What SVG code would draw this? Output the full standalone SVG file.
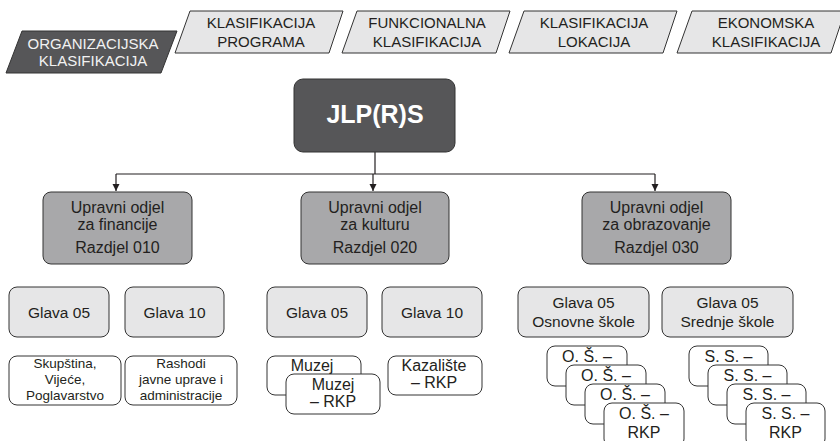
<svg xmlns="http://www.w3.org/2000/svg" width="840" height="441" viewBox="0 0 840 441">
<style>
  text { font-family: "Liberation Sans", Arial, sans-serif; fill: #231f20; text-anchor: middle; }
  .tab { fill: #e6e6e7; stroke: #333; stroke-width: 1; }
  .tabdark { fill: #565658; stroke: #333; stroke-width: 1; }
  .tt { font-size: 15px; }
  .wt { fill: #f2f2f2; }
  .dark { fill: #565658; stroke: #333; stroke-width: 1; }
  .mid { fill: #a8a8aa; stroke: #333; stroke-width: 1; }
  .light { fill: #e6e6e7; stroke: #333; stroke-width: 1; }
  .white { fill: #ffffff; stroke: #333; stroke-width: 1; }
  .m { font-size: 16px; }
  .g { font-size: 15.5px; }
  .s { font-size: 13.5px; }
  .r { font-size: 16px; }
  .conn { fill: none; stroke: #231f20; stroke-width: 1.2; }
</style>
<defs>
  <marker id="arr" markerWidth="8" markerHeight="8" refX="7" refY="4" orient="auto" markerUnits="userSpaceOnUse">
    <path d="M0,0.5 L7,4 L0,7.5 Z" fill="#231f20"/>
  </marker>
</defs>
<rect width="840" height="441" fill="#ffffff"/>

<g id="tab-org">
  <polygon class="tabdark" points="22,31 177,31 161,73 6,73"/>
  <text class="tt wt" x="93" y="49">ORGANIZACIJSKA</text>
  <text class="tt wt" x="93" y="66">KLASIFIKACIJA</text>
</g>
<g id="tab-prog">
  <polygon class="tab" points="190,11 343,11 329,53 175,53"/>
  <text class="tt" x="261" y="28">KLASIFIKACIJA</text>
  <text class="tt" x="261" y="47">PROGRAMA</text>
</g>
<g id="tab-funk">
  <polygon class="tab" points="357,11 510,11 496,53 342,53"/>
  <text class="tt" x="427" y="28">FUNKCIONALNA</text>
  <text class="tt" x="427" y="47">KLASIFIKACIJA</text>
</g>
<g id="tab-lok">
  <polygon class="tab" points="524,11 677,11 663,53 509,53"/>
  <text class="tt" x="594" y="28">KLASIFIKACIJA</text>
  <text class="tt" x="594" y="47">LOKACIJA</text>
</g>
<g id="tab-ekon">
  <polygon class="tab" points="692,11 845,11 831,53 677,53"/>
  <text class="tt" x="766" y="28">EKONOMSKA</text>
  <text class="tt" x="766" y="47">KLASIFIKACIJA</text>
</g>

<g id="connectors">
  <path class="conn" d="M375,152 V174"/>
  <path class="conn" d="M116,174 H655"/>
  <path class="conn" d="M116,174 V191" marker-end="url(#arr)"/>
  <path class="conn" d="M373,174 V191" marker-end="url(#arr)"/>
  <path class="conn" d="M655,174 V191" marker-end="url(#arr)"/>
</g>

<g id="jlprs">
  <rect class="dark" x="294" y="79" width="161" height="73" rx="9"/>
  <text x="375" y="123" style="font-size:25px;font-weight:bold;fill:#ffffff">JLP(R)S</text>
</g>

<g id="odjel-financije">
  <rect class="mid" x="43" y="192" width="149" height="72" rx="8"/>
  <text class="m" x="117.5" y="213">Upravni odjel</text>
  <text class="m" x="117.5" y="230">za financije</text>
  <text class="m" x="117.5" y="253">Razdjel 010</text>
</g>
<g id="odjel-kultura">
  <rect class="mid" x="301" y="192" width="148" height="72" rx="8"/>
  <text class="m" x="375" y="213">Upravni odjel</text>
  <text class="m" x="375" y="230">za kulturu</text>
  <text class="m" x="375" y="253">Razdjel 020</text>
</g>
<g id="odjel-obrazovanje">
  <rect class="mid" x="582" y="192" width="149" height="72" rx="8"/>
  <text class="m" x="656.5" y="213">Upravni odjel</text>
  <text class="m" x="656.5" y="230">za obrazovanje</text>
  <text class="m" x="656.5" y="253">Razdjel 030</text>
</g>

<g id="glava-fin-05">
  <rect class="light" x="9" y="287" width="100" height="50" rx="8"/>
  <text class="g" x="59" y="318">Glava 05</text>
</g>
<g id="glava-fin-10">
  <rect class="light" x="125" y="287" width="99" height="50" rx="8"/>
  <text class="g" x="174.5" y="318">Glava 10</text>
</g>
<g id="glava-kul-05">
  <rect class="light" x="267" y="287" width="100" height="50" rx="8"/>
  <text class="g" x="317" y="318">Glava 05</text>
</g>
<g id="glava-kul-10">
  <rect class="light" x="382" y="287" width="100" height="50" rx="8"/>
  <text class="g" x="432" y="318">Glava 10</text>
</g>
<g id="glava-os">
  <rect class="light" x="518" y="287" width="131" height="50" rx="8"/>
  <text class="g" x="583.5" y="308">Glava 05</text>
  <text class="g" x="583.5" y="327">Osnovne škole</text>
</g>
<g id="glava-ss">
  <rect class="light" x="662" y="287" width="131" height="50" rx="8"/>
  <text class="g" x="727.5" y="308">Glava 05</text>
  <text class="g" x="727.5" y="327">Srednje škole</text>
</g>

<g id="skupstina">
  <rect class="white" x="9" y="356" width="112" height="49" rx="8"/>
  <text class="s" x="65" y="368">Skupština,</text>
  <text class="s" x="65" y="384">Vijeće,</text>
  <text class="s" x="65" y="400">Poglavarstvo</text>
</g>
<g id="rashodi">
  <rect class="white" x="125" y="356" width="112" height="49" rx="8"/>
  <text class="s" x="181" y="368">Rashodi</text>
  <text class="s" x="181" y="384">javne uprave i</text>
  <text class="s" x="181" y="400">administracije</text>
</g>
<g id="muzej">
  <rect class="white" x="267" y="356" width="94" height="39" rx="8"/>
  <text class="r" x="312" y="371">Muzej</text>
</g>
<g id="muzej-rkp">
  <rect class="white" x="286" y="374" width="94" height="40" rx="8"/>
  <text class="r" x="333" y="390">Muzej</text>
  <text class="r" x="333" y="407">– RKP</text>
</g>
<g id="kazaliste">
  <rect class="white" x="388" y="356" width="94" height="39" rx="8"/>
  <text class="r" x="434" y="371">Kazalište</text>
  <text class="r" x="434" y="388">– RKP</text>
</g>

<g id="os-1">
  <rect class="white" x="547" y="346" width="80" height="40" rx="8"/>
  <text class="r" x="587" y="362">O. Š. –</text>
</g>
<g id="os-2">
  <rect class="white" x="566" y="365" width="80" height="40" rx="8"/>
  <text class="r" x="606" y="381">O. Š. –</text>
</g>
<g id="os-3">
  <rect class="white" x="585" y="384" width="80" height="40" rx="8"/>
  <text class="r" x="625" y="400">O. Š. –</text>
</g>
<g id="os-4">
  <rect class="white" x="604" y="403" width="80" height="44" rx="8"/>
  <text class="r" x="644" y="419">O. Š. –</text>
  <text class="r" x="644" y="438">RKP</text>
</g>

<g id="ss-1">
  <rect class="white" x="689" y="346" width="79" height="40" rx="8"/>
  <text class="r" x="728.5" y="362">S. S. –</text>
</g>
<g id="ss-2">
  <rect class="white" x="708" y="365" width="79" height="40" rx="8"/>
  <text class="r" x="747.5" y="381">S. S. –</text>
</g>
<g id="ss-3">
  <rect class="white" x="727" y="384" width="79" height="40" rx="8"/>
  <text class="r" x="766.5" y="400">S. S. –</text>
</g>
<g id="ss-4">
  <rect class="white" x="746" y="403" width="79" height="44" rx="8"/>
  <text class="r" x="785.5" y="419">S. S. –</text>
  <text class="r" x="785.5" y="438">RKP</text>
</g>
</svg>
